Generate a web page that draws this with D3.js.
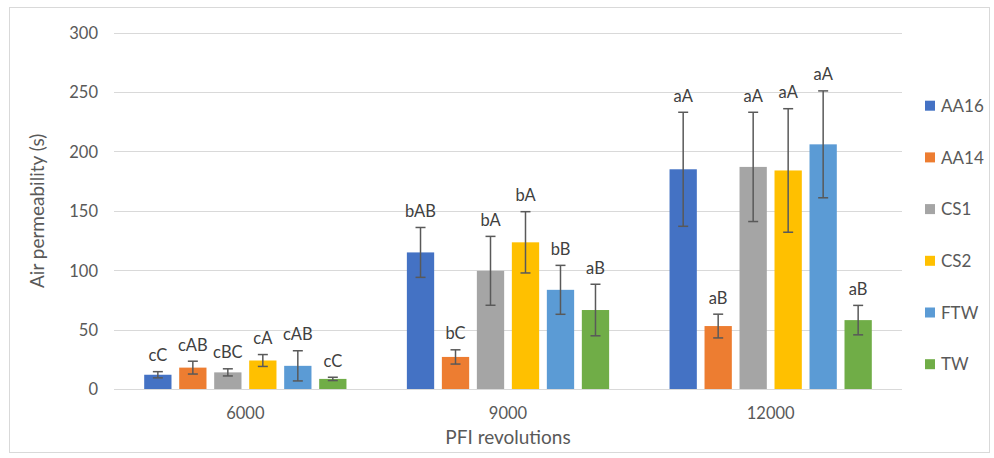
<!DOCTYPE html>
<html>
<head>
<meta charset="utf-8">
<script src="https://cdn.jsdelivr.net/npm/d3@7"></script>
<style>
  html, body { margin: 0; padding: 0; background: #fff; }
  svg { display: block; font-family: Lato, "Open Sans", sans-serif; }
</style>
</head>
<body>
<svg id="chart" width="994" height="458"></svg>
<script>
// PFI revolution levels on the x axis
const categories = ["6000", "9000", "12000"];
// Pulp series
const series = ["AA16", "AA14", "CS1", "CS2", "FTW", "TW"];
const colors = ["#4472C4", "#ED7D31", "#A5A5A5", "#FFC000", "#5B9BD5", "#70AD47"];

// Mean air permeability (s) per series, one value per PFI level
const AA16 = [12, 115, 185];
const AA14 = [18, 27, 53];
const CS1  = [14, 99.5, 187];
const CS2  = [24, 123.5, 184];
const FTW  = [19.5, 83.5, 206];
const TW   = [8.5, 66.5, 58];

// Standard deviations
const AA16_sd = [2.6, 21, 48];
const AA14_sd = [5.4, 6, 10];
const CS1_sd  = [3, 29, 46];
const CS2_sd  = [5, 25.8, 52];
const FTW_sd  = [12.7, 20.6, 45];
const TW_sd   = [1.4, 21.7, 12.4];

// Significance letters
const AA16_lbl = ["cC", "bAB", "aA"];
const AA14_lbl = ["cAB", "bC", "aB"];
const CS1_lbl  = ["cBC", "bA", "aA"];
const CS2_lbl  = ["cA", "bA", "aA"];
const FTW_lbl  = ["cAB", "bB", "aA"];
const TW_lbl   = ["cC", "aB", "aB"];

const yTicks = [0, 50, 100, 150, 200, 250, 300];

const values = [AA16, AA14, CS1, CS2, FTW, TW];
const sds = [AA16_sd, AA14_sd, CS1_sd, CS2_sd, FTW_sd, TW_sd];
const lbls = [AA16_lbl, AA14_lbl, CS1_lbl, CS2_lbl, FTW_lbl, TW_lbl];

const rows = [];
categories.forEach((c, ci) => {
  series.forEach((s, si) => {
    rows.push({ cat: c, ser: s, v: values[si][ci], sd: sds[si][ci], lbl: lbls[si][ci], color: colors[si] });
  });
});

const svg = d3.select("#chart");
const plot = { left: 114, right: 902, top: 32.7, bottom: 389 };

// outer frame
svg.append("rect")
  .attr("x", 9.5).attr("y", 7.5).attr("width", 980).attr("height", 445)
  .attr("fill", "none").attr("stroke", "#d9d9d9").attr("stroke-width", 1);

const y = d3.scaleLinear().domain([0, 300]).range([plot.bottom, plot.top]);
const x0 = d3.scaleBand().domain(categories).range([plot.left, plot.right]).padding(0);
const x1 = d3.scaleBand().domain(series).range([0, x0.bandwidth()])
  .paddingInner(0.22).paddingOuter(0.863);

// gridlines
svg.append("g").selectAll("line").data(yTicks).join("line")
  .attr("x1", plot.left).attr("x2", plot.right)
  .attr("y1", d => Math.round(y(d)) + 0.5).attr("y2", d => Math.round(y(d)) + 0.5)
  .attr("stroke", "#d9d9d9").attr("stroke-width", 1);

// y axis labels
const yAxis = d3.axisLeft(y).tickValues(yTicks).tickSize(0).tickPadding(0);
const gy = svg.append("g").attr("transform", `translate(${plot.left - 16},0)`).call(yAxis);
gy.select(".domain").remove();
gy.selectAll("text").attr("fill", "#595959").style("font-size", "16.5px")
  .style("font-family", "Lato, sans-serif").attr("dy", "0.35em");

// x axis labels
const xAxis = d3.axisBottom(x0).tickSize(0).tickPadding(0);
const gx = svg.append("g").attr("transform", `translate(0,${plot.bottom + 18})`).call(xAxis);
gx.select(".domain").remove();
gx.selectAll("text").attr("fill", "#595959").style("font-size", "16.5px")
  .style("font-family", "Lato, sans-serif").attr("dy", "0.71em");

// bars
const groups = svg.append("g").selectAll("g").data(categories).join("g")
  .attr("transform", d => `translate(${x0(d)},0)`);

groups.selectAll("rect").data(c => rows.filter(r => r.cat === c)).join("rect")
  .attr("x", d => x1(d.ser)).attr("width", x1.bandwidth())
  .attr("y", d => y(d.v)).attr("height", d => y(0) - y(d.v))
  .attr("fill", d => d.color);

// error bars
const capW = 5;
const eb = groups.selectAll("g.err").data(c => rows.filter(r => r.cat === c)).join("g")
  .attr("class", "err")
  .attr("stroke", "#595959").attr("stroke-width", 1.5);
eb.append("line")
  .attr("x1", d => x1(d.ser) + x1.bandwidth() / 2).attr("x2", d => x1(d.ser) + x1.bandwidth() / 2)
  .attr("y1", d => y(d.v + d.sd)).attr("y2", d => y(d.v - d.sd));
eb.append("line")
  .attr("x1", d => x1(d.ser) + x1.bandwidth() / 2 - capW).attr("x2", d => x1(d.ser) + x1.bandwidth() / 2 + capW)
  .attr("y1", d => y(d.v + d.sd)).attr("y2", d => y(d.v + d.sd));
eb.append("line")
  .attr("x1", d => x1(d.ser) + x1.bandwidth() / 2 - capW).attr("x2", d => x1(d.ser) + x1.bandwidth() / 2 + capW)
  .attr("y1", d => y(d.v - d.sd)).attr("y2", d => y(d.v - d.sd));

// significance letters
groups.selectAll("text.lbl").data(c => rows.filter(r => r.cat === c)).join("text")
  .attr("class", "lbl")
  .attr("x", d => x1(d.ser) + x1.bandwidth() / 2)
  .attr("y", d => y(d.v + d.sd) - 10.5)
  .attr("text-anchor", "middle")
  .attr("fill", "#404040").style("font-size", "16.5px")
  .text(d => d.lbl);

// axis titles
svg.append("text")
  .attr("x", (plot.left + plot.right) / 2).attr("y", 444)
  .attr("text-anchor", "middle").attr("fill", "#595959").style("font-size", "19px")
  .text("PFI revolutions");
svg.append("text")
  .attr("transform", `translate(44,${(plot.top + plot.bottom) / 2}) rotate(-90)`)
  .attr("text-anchor", "middle").attr("fill", "#595959").style("font-size", "19px")
  .text("Air permeability (s)");

// legend
const legend = svg.append("g").selectAll("g").data(series).join("g")
  .attr("transform", (d, i) => `translate(925,${105.7 + i * 51.7})`);
legend.append("rect").attr("x", 0).attr("y", -5).attr("width", 10).attr("height", 10)
  .attr("fill", (d, i) => colors[i]);
legend.append("text").attr("x", 16).attr("y", 0).attr("dy", "0.36em")
  .attr("fill", "#595959").style("font-size", "17px").text(d => d);
</script>
</body>
</html>
